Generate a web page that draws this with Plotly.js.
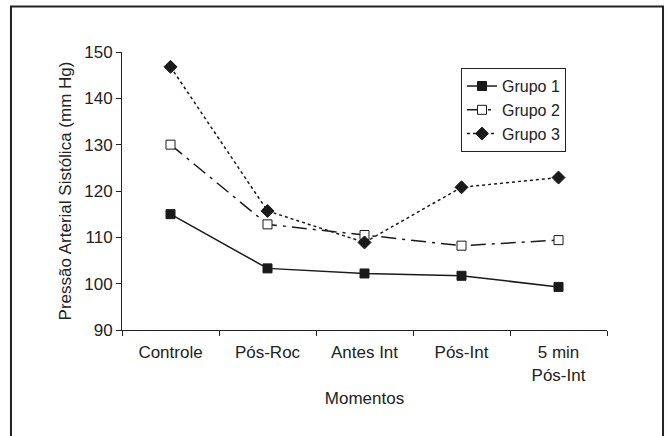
<!DOCTYPE html>
<html>
<head>
<meta charset="utf-8">
<script src="https://cdn.plot.ly/plotly-3.0.1.min.js"></script>
<style>html,body{margin:0;padding:0;background:#fff;}#chart{width:669px;height:436px;}</style>
</head>
<body>
<div id="chart"></div>
<script>
const categories = ["Controle", "Pós-Roc", "Antes Int", "Pós-Int", "5 min<br>Pós-Int"];
const grupo1 = [115.0, 103.3, 102.2, 101.7, 99.3];
const grupo2 = [130.0, 112.8, 110.5, 108.2, 109.4];
const grupo3 = [146.8, 115.7, 108.9, 120.8, 122.9];
const yTicks = [90, 100, 110, 120, 130, 140, 150];

const font = {family: "Liberation Sans, Arial, sans-serif", size: 17, color: "#222"};
const legendFont = {family: "Liberation Sans, Arial, sans-serif", size: 16, color: "#222"};

const traces = [
  {x: categories, y: grupo1, name: "Grupo 1", type: "scatter", mode: "lines+markers",
   line: {color: "#1a1a1a", width: 1.5, dash: "solid"},
   marker: {symbol: "square", size: 9, color: "#1a1a1a", line: {color: "#1a1a1a", width: 1}}},
  {x: categories, y: grupo2, name: "Grupo 2", type: "scatter", mode: "lines+markers",
   line: {color: "#1a1a1a", width: 1.5, dash: "longdashdot"},
   marker: {symbol: "square", size: 9, color: "#ffffff", line: {color: "#1a1a1a", width: 1}}},
  {x: categories, y: grupo3, name: "Grupo 3", type: "scatter", mode: "lines+markers",
   line: {color: "#1a1a1a", width: 1.5, dash: "dot"},
   marker: {symbol: "diamond", size: 10, color: "#1a1a1a", line: {color: "#1a1a1a", width: 1}}}
];

const layout = {
  width: 669, height: 436,
  margin: {l: 122, r: 62, t: 52, b: 106},
  paper_bgcolor: "#fff", plot_bgcolor: "#fff",
  font: font,
  showlegend: true,
  legend: {x: 0.699, y: 0.942, xanchor: "left", yanchor: "top",
           bordercolor: "#222", borderwidth: 1, bgcolor: "#fff",
           font: legendFont, tracegroupgap: 0, itemwidth: 30},
  xaxis: {type: "category", range: [-0.5, 4.5], showline: true, linecolor: "#222", linewidth: 1,
          ticks: "outside", tickson: "boundaries", ticklen: 5, tickcolor: "#222",
          ticklabelstandoff: 7,
          showgrid: false, zeroline: false, tickfont: font,
          title: {text: "Momentos", font: font, standoff: 8}},
  yaxis: {range: [90, 150], tickvals: yTicks, showline: true, linecolor: "#222", linewidth: 1,
          ticks: "outside", ticklen: 5, tickcolor: "#222", showgrid: false, zeroline: false,
          tickfont: font, title: {text: "Pressão Arterial Sistólica (mm Hg)", font: font, standoff: 8}},
  shapes: [
    {type: "path", xref: "paper", yref: "paper",
     path: "M -0.2289 -0.45 L -0.2289 1.1637 L 1.1155 1.1637 L 1.1155 -0.45",
     line: {color: "#222", width: 2}}
  ]
};

Plotly.newPlot("chart", traces, layout, {displayModeBar: false, staticPlot: true});
</script>
</body>
</html>
